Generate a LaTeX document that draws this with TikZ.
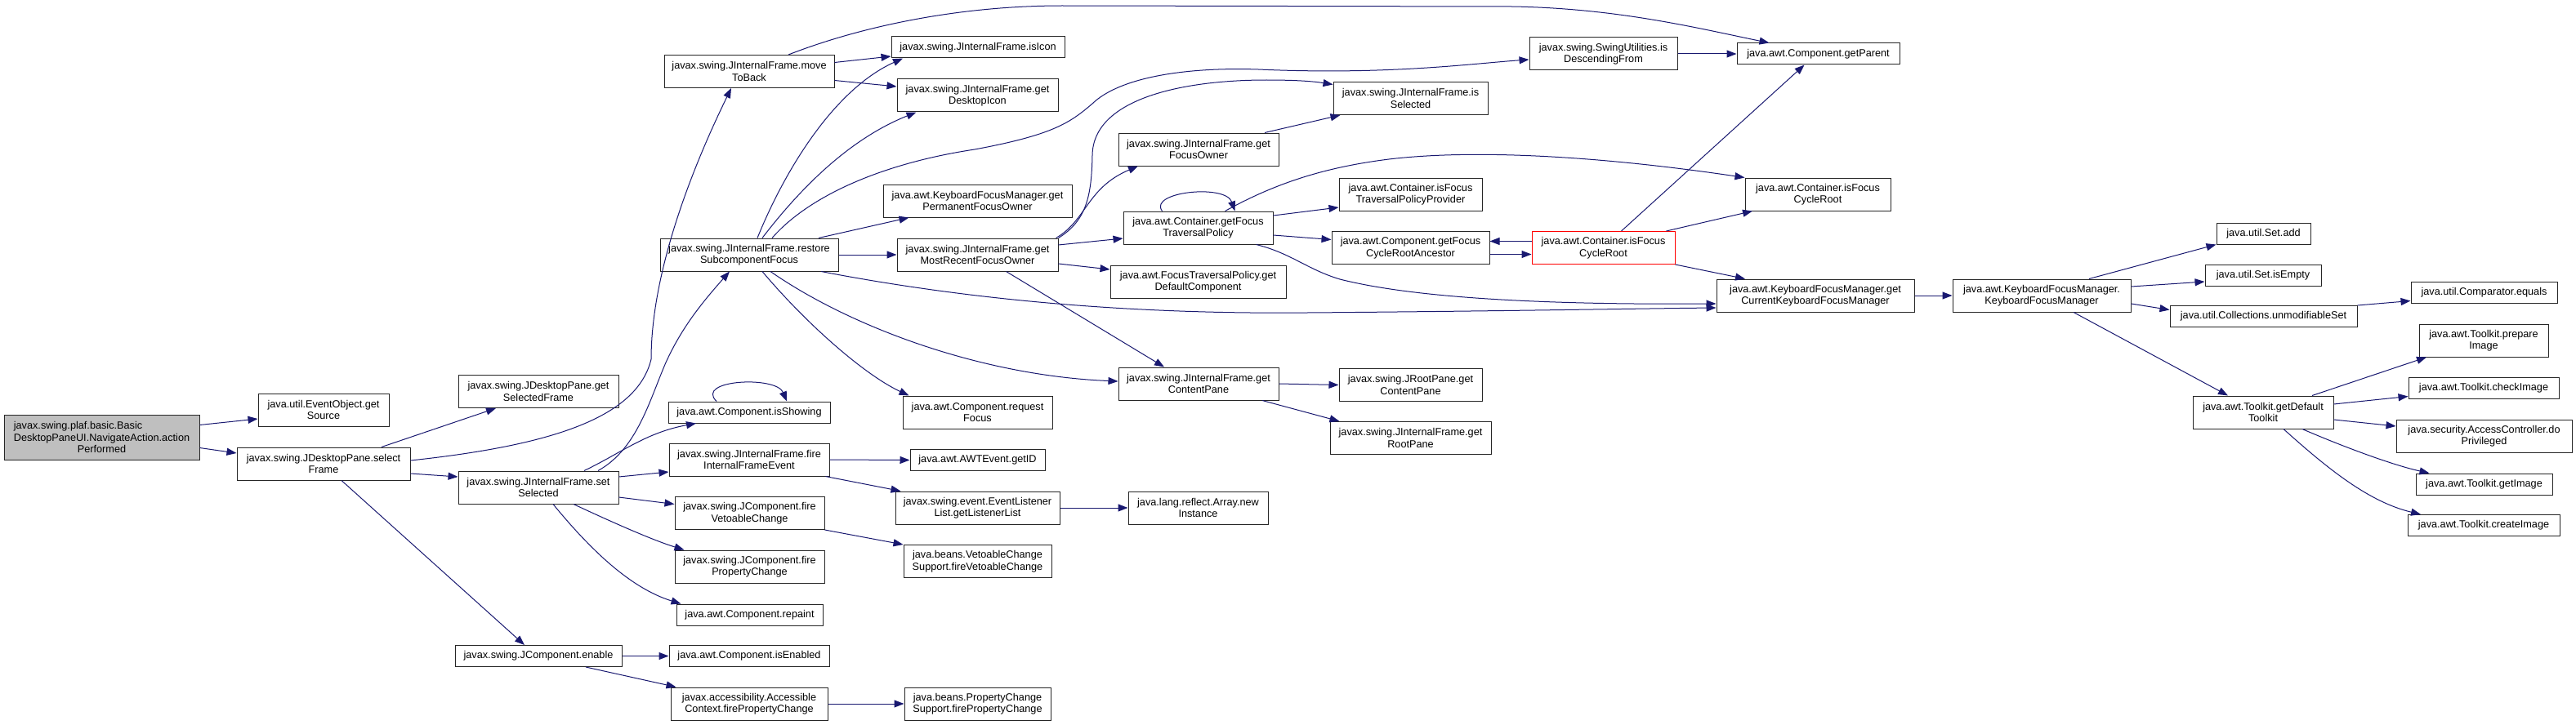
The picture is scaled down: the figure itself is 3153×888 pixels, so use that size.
\documentclass[tikz,border=0pt]{standalone}
\usepackage{fontspec}
\setmainfont{Liberation Sans}
\usetikzlibrary{arrows.meta, positioning, calc}

\definecolor{edgeblue}{RGB}{25,25,112}
\definecolor{rootgray}{RGB}{191,191,191}

\tikzset{
  fn/.style={draw=black!85, line width=1pt, fill=white, inner sep=0pt,
    align=center, font=\fontsize{12.7}{14.5}\selectfont},
  one/.style={minimum height=26pt},
  two/.style={minimum height=40pt},
  call/.style={draw=edgeblue, line width=1pt, -{Triangle[length=12pt,width=9pt]}},
}

\begin{document}
\begin{tikzpicture}[x=1pt, y=-1pt]
\useasboundingbox (0,0) rectangle (3153,888);

% caller
\node[fn, fill=rootgray, minimum width=239pt, minimum height=55pt] (navigate) at (124.5,535.5)
  {\rlap{javax.swing.plaf.basic.Basic}\phantom{DesktopPaneUI.NavigateAction.action}\\DesktopPaneUI.NavigateAction.action\\Performed};

% first level
\node[fn, two, minimum width=160pt] (getSource) at (396,502) {java.util.EventObject.get\\Source};
\node[fn, two, minimum width=212pt] (selectFrame) at (396,568) {javax.swing.JDesktopPane.select\\Frame};

% second level
\node[fn, two, minimum width=208pt] (moveToBack) at (917,87.5) {javax.swing.JInternalFrame.move\\ToBack};
\node[fn, two, minimum width=218pt] (restore) at (917,312) {javax.swing.JInternalFrame.restore\\SubcomponentFocus};
\node[fn, two, minimum width=196pt] (getSelectedFrame) at (659,479.5) {javax.swing.JDesktopPane.get\\SelectedFrame};
\node[fn, two, minimum width=196pt] (setSelected) at (659,597) {javax.swing.JInternalFrame.set\\Selected};
\node[fn, one, minimum width=204pt] (enable) at (659,803.5) {javax.swing.JComponent.enable};

\node[fn, one, minimum width=198pt] (isShowing) at (917,505) {java.awt.Component.isShowing};
\node[fn, two, minimum width=196pt] (fireIFE) at (917,563) {javax.swing.JInternalFrame.fire\\InternalFrameEvent};
\node[fn, two, minimum width=183pt] (jcFireVeto) at (917.5,628.5) {javax.swing.JComponent.fire\\VetoableChange};
\node[fn, two, minimum width=183pt] (jcFireProp) at (917.5,694) {javax.swing.JComponent.fire\\PropertyChange};
\node[fn, one, minimum width=179pt] (repaint) at (917.5,753) {java.awt.Component.repaint};
\node[fn, one, minimum width=196pt] (isEnabled) at (917,803.5) {java.awt.Component.isEnabled};
\node[fn, two, minimum width=192pt] (acFireProp) at (917,862) {javax.accessibility.Accessible\\Context.firePropertyChange};

% third level
\node[fn, one, minimum width=212pt] (isIcon) at (1197,58) {javax.swing.JInternalFrame.isIcon};
\node[fn, two, minimum width=197pt] (getDesktopIcon) at (1196.5,117) {javax.swing.JInternalFrame.get\\DesktopIcon};
\node[fn, two, minimum width=231pt] (getPermFocus) at (1196.5,246) {java.awt.KeyboardFocusManager.get\\PermanentFocusOwner};
\node[fn, two, minimum width=197pt] (getMostRecent) at (1196.5,312) {javax.swing.JInternalFrame.get\\MostRecentFocusOwner};
\node[fn, two, minimum width=183pt] (requestFocus) at (1196.5,505) {java.awt.Component.request\\Focus};
\node[fn, one, minimum width=165pt] (getID) at (1196.5,563.5) {java.awt.AWTEvent.getID};
\node[fn, two, minimum width=201pt] (getListenerList) at (1196.5,622) {javax.swing.event.EventListener\\List.getListenerList};
\node[fn, two, minimum width=181pt] (vetoSupport) at (1196.5,687.5) {java.beans.VetoableChange\\Support.fireVetoableChange};
\node[fn, two, minimum width=179pt] (propSupport) at (1196.5,862) {java.beans.PropertyChange\\Support.firePropertyChange};

% fourth level
\node[fn, two, minimum width=196pt] (getFocusOwner) at (1467,183) {javax.swing.JInternalFrame.get\\FocusOwner};
\node[fn, two, minimum width=183pt] (getFTP) at (1466.5,279) {java.awt.Container.getFocus\\TraversalPolicy};
\node[fn, two, minimum width=215pt] (getDefComp) at (1466.5,345) {java.awt.FocusTraversalPolicy.get\\DefaultComponent};
\node[fn, two, minimum width=196pt] (getContentPane) at (1467,470) {javax.swing.JInternalFrame.get\\ContentPane};
\node[fn, two, minimum width=171pt] (newInstance) at (1466.5,622) {java.lang.reflect.Array.new\\Instance};

% fifth level
\node[fn, two, minimum width=189pt] (isSelected) at (1726.5,120.5) {javax.swing.JInternalFrame.is\\Selected};
\node[fn, two, minimum width=175pt] (isFTPP) at (1726.5,238) {java.awt.Container.isFocus\\TraversalPolicyProvider};
\node[fn, two, minimum width=193pt] (getFCRA) at (1726.5,303.5) {java.awt.Component.getFocus\\CycleRootAncestor};
\node[fn, two, minimum width=175pt] (rootPaneContent) at (1726.5,471.5) {javax.swing.JRootPane.get\\ContentPane};
\node[fn, two, minimum width=197pt] (getRootPane) at (1726.5,536.5) {javax.swing.JInternalFrame.get\\RootPane};

\node[fn, two, minimum width=181pt] (isDescending) at (1962.5,66) {javax.swing.SwingUtilities.is\\DescendingFrom};
\node[fn, two, draw=red, minimum width=175pt] (isFCRred) at (1962.5,303.5) {java.awt.Container.isFocus\\CycleRoot};

\node[fn, one, minimum width=199pt] (getParent) at (2225.5,66) {java.awt.Component.getParent};
\node[fn, two, minimum width=178pt] (isFCR) at (2225,238) {java.awt.Container.isFocus\\CycleRoot};
\node[fn, two, minimum width=242pt] (getCurKFM) at (2222,362) {java.awt.KeyboardFocusManager.get\\CurrentKeyboardFocusManager};
\node[fn, two, minimum width=218pt] (kfmCtor) at (2499,362) {java.awt.KeyboardFocusManager.\\KeyboardFocusManager};

% right end
\node[fn, one, minimum width=115pt] (setAdd) at (2770.5,286) {java.util.Set.add};
\node[fn, one, minimum width=142pt] (setIsEmpty) at (2770,337) {java.util.Set.isEmpty};
\node[fn, one, minimum width=229pt] (unmodSet) at (2770.5,387.5) {java.util.Collections.unmodifiableSet};
\node[fn, two, minimum width=172pt] (getDefToolkit) at (2770,505) {java.awt.Toolkit.getDefault\\Toolkit};
\node[fn, one, minimum width=179pt] (compEquals) at (3040.5,358.5) {java.util.Comparator.equals};
\node[fn, two, minimum width=158pt] (prepareImage) at (3040,417) {java.awt.Toolkit.prepare\\Image};
\node[fn, one, minimum width=184pt] (checkImage) at (3040,475.5) {java.awt.Toolkit.checkImage};
\node[fn, two, minimum width=215pt] (doPriv) at (3040.5,534) {java.security.AccessController.do\\Privileged};
\node[fn, one, minimum width=167pt] (getImage) at (3040.5,593) {java.awt.Toolkit.getImage};
\node[fn, one, minimum width=186pt] (createImage) at (3040,643.5) {java.awt.Toolkit.createImage};

% calls
\draw[call] ([yshift=15pt]navigate.east) -- ([yshift=-11pt]getSource.west);
\draw[call] ([yshift=-13pt]navigate.east) -- ([yshift=13pt]selectFrame.west);

\draw[call] ([xshift=71pt]selectFrame.north) -- ([xshift=-52pt]getSelectedFrame.south);
\draw[call] ([yshift=4pt]selectFrame.east) .. controls (680,545) and (780,510) .. (797,440)
  .. controls (797,330) and (850,200) .. ([xshift=-22pt]moveToBack.south);
\draw[call] ([yshift=-12pt]selectFrame.east) -- ([yshift=13pt]setSelected.west);
\draw[call] ([xshift=22pt]selectFrame.south) -- ([xshift=-17pt]enable.north);

\draw[call] ([xshift=48pt]moveToBack.north) .. controls (1060,30) and (1180,7) .. (1300,7) -- (1850,8)
  .. controls (1980,10) and (2080,35) .. ([xshift=-60pt]getParent.north);
\draw[call] ([yshift=11pt]moveToBack.east) -- ([yshift=-11pt]isIcon.west);
\draw[call] ([yshift=-11pt]moveToBack.east) -- ([yshift=11pt]getDesktopIcon.west);

\draw[call] ([xshift=10pt]restore.north) .. controls (960,210) and (1020,110) .. ([xshift=-92pt]isIcon.south);
\draw[call] ([xshift=16pt]restore.north) .. controls (980,230) and (1040,170) .. ([xshift=-75pt]getDesktopIcon.south);
\draw[call] ([xshift=28pt]restore.north) .. controls (990,240) and (1080,200) .. (1193,183)
  .. controls (1290,165) and (1310,150) .. (1337,127) .. controls (1370,95) and (1450,82) .. (1540,85)
  .. controls (1700,92) and (1800,78) .. ([yshift=-7pt]isDescending.west);
\draw[call] ([xshift=85pt]restore.north) -- ([xshift=-84pt]getPermFocus.south);
\draw[call] (restore.east) -- (getMostRecent.west);
\draw[call] ([xshift=88pt]restore.south) .. controls (1200,370) and (1400,385) .. (1600,383)
  .. controls (1850,381) and (2000,378) .. ([yshift=-15pt]getCurKFM.west);
\draw[call] ([xshift=16pt]restore.south) .. controls (990,400) and (1060,460) .. ([xshift=-84pt]requestFocus.north);
\draw[call] ([xshift=26pt]restore.south) .. controls (1040,400) and (1200,460) .. ([yshift=3pt]getContentPane.west);

\draw[call] (isDescending.east) -- (getParent.west);

\draw[call] ([xshift=35pt]getMostRecent.south) -- ([xshift=-42pt]getContentPane.north);
\draw[call] ([xshift=-3pt]getMostRecent.north east) .. controls (1330,270) and (1330,230) .. ([xshift=-74pt]getFocusOwner.south);
\draw[call] (getMostRecent.north east) .. controls (1330,270) and (1336,240) .. (1337,190)
  .. controls (1338,120) and (1450,98) .. (1550,98) .. controls (1590,98) and (1610,100) .. ([yshift=17pt]isSelected.west);
\draw[call] ([yshift=12pt]getMostRecent.east) -- ([yshift=-13pt]getFTP.west);
\draw[call] ([yshift=-11pt]getMostRecent.east) -- ([yshift=15pt]getDefComp.west);

\draw[call] ([xshift=81pt]getFocusOwner.north) -- ([xshift=-86pt]isSelected.south);

\draw[call] ([xshift=-44pt]getFTP.north) .. controls (1405,235) and (1500,225) .. ([xshift=45pt]getFTP.north);
\draw[call] ([xshift=33pt]getFTP.north) .. controls (1560,225) and (1620,205) .. (1700,195)
  .. controls (1800,183) and (1950,190) .. (isFCR.north west);
\draw[call] ([yshift=15pt]getFTP.east) -- ([yshift=-16pt]isFTPP.west);
\draw[call] ([yshift=-9pt]getFTP.east) -- ([yshift=10pt]getFCRA.west);
\draw[call] ([xshift=71pt]getFTP.south) .. controls (1580,310) and (1600,330) .. (1640,342)
  .. controls (1750,370) and (1950,373) .. ([yshift=-10pt]getCurKFM.west);

\draw[call] ([yshift=-8pt]getFCRA.east) -- ([yshift=-8pt]isFCRred.west);
\draw[call] ([yshift=8pt]isFCRred.west) -- ([yshift=8pt]getFCRA.east);
\draw[call] ([xshift=22pt]isFCRred.north) -- ([xshift=-17pt]getParent.south);
\draw[call] ([xshift=77pt]isFCRred.north) -- ([xshift=-80pt]isFCR.south);
\draw[call] (isFCRred.south east) -- ([xshift=-86pt]getCurKFM.north);

\draw[call] (getCurKFM.east) -- (kfmCtor.west);
\draw[call] ([xshift=58pt]kfmCtor.north) -- (setAdd.south west);
\draw[call] ([yshift=11pt]kfmCtor.east) -- ([yshift=-8pt]setIsEmpty.west);
\draw[call] ([yshift=-10pt]kfmCtor.east) -- ([yshift=8pt]unmodSet.west);
\draw[call] ([xshift=39pt]kfmCtor.south) -- ([xshift=-43pt]getDefToolkit.north);
\draw[call] (unmodSet.north east) -- ([yshift=-10pt]compEquals.west);

\draw[call] ([xshift=60pt]getDefToolkit.north) -- ([xshift=-70pt]prepareImage.south);
\draw[call] ([yshift=10pt]getDefToolkit.east) -- ([yshift=-10pt]checkImage.west);
\draw[call] ([yshift=-9pt]getDefToolkit.east) -- ([yshift=12pt]doPriv.west);
\draw[call] ([xshift=48pt]getDefToolkit.south) .. controls (2870,548) and (2930,570) .. ([xshift=-67pt]getImage.north);
\draw[call] ([xshift=25pt]getDefToolkit.south) .. controls (2850,575) and (2900,615) .. ([xshift=-77pt]createImage.north);

\draw[call] ([xshift=56pt]setSelected.north) .. controls (760,555) and (790,530) .. ([xshift=-65pt]isShowing.south);
\draw[call] ([xshift=-40pt]isShowing.north) .. controls (850,465) and (950,460) .. ([xshift=46pt]isShowing.north);
\draw[call] ([xshift=73pt]setSelected.north) .. controls (780,550) and (795,490) .. (815,444)
  .. controls (835,400) and (860,370) .. ([xshift=-24pt]restore.south);
\draw[call] ([yshift=13pt]setSelected.east) -- ([yshift=-15pt]fireIFE.west);
\draw[call] ([yshift=-12pt]setSelected.east) -- ([yshift=11pt]jcFireVeto.west);
\draw[call] ([xshift=43pt]setSelected.south) .. controls (750,640) and (800,662) .. ([xshift=-80pt]jcFireProp.north);
\draw[call] ([xshift=18pt]setSelected.south) .. controls (720,670) and (770,720) .. ([xshift=-84pt]repaint.north);

\draw[call] (fireIFE.east) -- (getID.west);
\draw[call] ([xshift=-5pt]fireIFE.south east) -- ([xshift=7pt]getListenerList.north west);
\draw[call] (jcFireVeto.south east) -- (vetoSupport.north west);
\draw[call] (getListenerList.east) -- (newInstance.west);

\draw[call] (enable.east) -- (isEnabled.west);
\draw[call] ([xshift=58pt]enable.south) -- ([xshift=7pt]acFireProp.north west);
\draw[call] (acFireProp.east) -- (propSupport.west);

\draw[call] (getContentPane.east) -- (rootPaneContent.west);
\draw[call] ([xshift=78pt]getContentPane.south) -- ([xshift=12pt]getRootPane.north west);
\end{tikzpicture}
\end{document}
